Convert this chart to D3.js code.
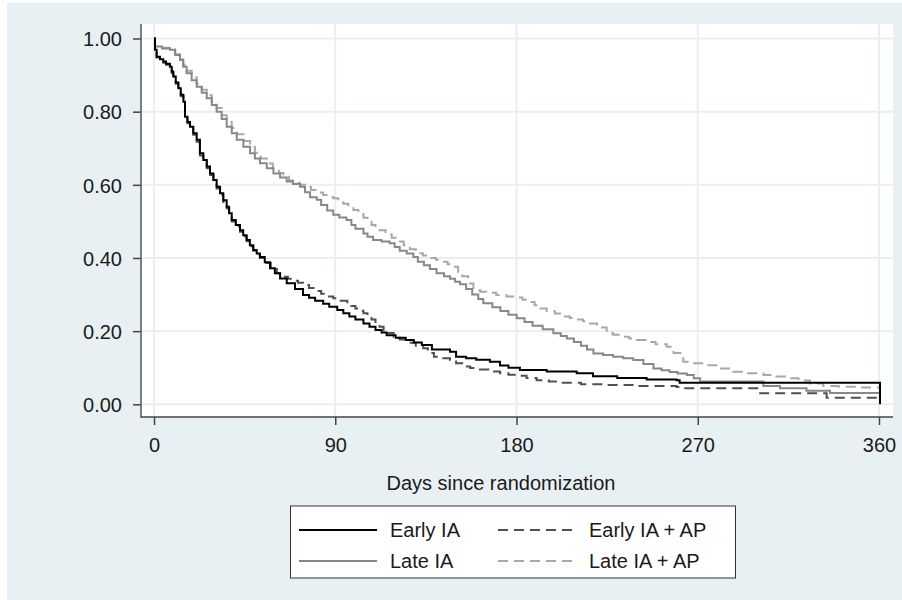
<!DOCTYPE html>
<html>
<head>
<meta charset="utf-8">
<script src="https://cdn.jsdelivr.net/npm/d3@7/dist/d3.min.js"></script>
<style>
  html, body { margin: 0; padding: 0; background: #ffffff; }
  svg { display: block; }
  text { font-family: "Liberation Sans", Arial, Helvetica, sans-serif; fill: #1a1a1a; }
</style>
</head>
<body>
<svg id="chart" width="902" height="600"></svg>
<script>
// Kaplan-Meier survival estimates: [days since randomization, proportion surviving]
const earlyIA = [
  [0,1.0],[0.5,0.969],[1.3,0.95],[3,0.943],[4.6,0.937],[6,0.931],[7.9,0.923],[8.8,0.91],
  [9.6,0.896],[10.8,0.88],[12.1,0.864],[13.3,0.846],[14.6,0.827],[15.4,0.786],[16.6,0.772],
  [17.9,0.759],[19.5,0.741],[21.2,0.723],[22.8,0.686],[24.5,0.668],[26.2,0.65],[27.8,0.631],
  [29.5,0.613],[31.1,0.595],[32.8,0.577],[34.4,0.558],[36.1,0.54],[37.3,0.522],[38.6,0.504],
  [40.6,0.49],[42.7,0.476],[44.3,0.462],[46,0.449],[47.6,0.435],[49.3,0.422],[51,0.412],
  [52.6,0.403],[55,0.388],[57.6,0.372],[60,0.358],[62.6,0.344],[65.9,0.331],[70,0.315],
  [74,0.299],[77,0.291],[80,0.283],[84,0.275],[87,0.267],[91,0.258],[94,0.249],[97,0.24],
  [100,0.232],[104,0.221],[107,0.212],[110,0.203],[113,0.196],[115.5,0.189],[120,0.182],
  [125,0.176],[129,0.169],[133,0.162],[138,0.15],[147,0.144],[150,0.13],[155,0.126],
  [160,0.122],[166.8,0.116],[171.8,0.106],[176,0.1],[181.7,0.094],[195,0.09],[209.9,0.085],
  [218,0.077],[230,0.072],[244.6,0.068],[259.5,0.066],[261,0.059],[360.5,0.0]
];
const earlyIAAP = [
  [0,1.0],[0.5,0.968],[1.3,0.948],[3,0.94],[4.6,0.934],[6,0.928],[7.9,0.92],[8.8,0.906],
  [9.6,0.892],[10.8,0.876],[12.1,0.86],[13.3,0.842],[14.6,0.822],[15.4,0.782],[16.6,0.768],
  [17.9,0.754],[19.5,0.737],[21.2,0.718],[22.8,0.68],[24.5,0.663],[26.2,0.645],[27.8,0.627],
  [29.5,0.608],[31.1,0.59],[32.8,0.572],[34.4,0.553],[36.1,0.535],[37.3,0.518],[38.6,0.5],
  [40.6,0.486],[42.7,0.472],[44.3,0.459],[46,0.446],[47.6,0.432],[49.3,0.42],[51,0.41],
  [52.6,0.4],[55,0.386],[58,0.37],[61,0.358],[64,0.349],[66.5,0.343],[69,0.338],[71.5,0.332],
  [74,0.326],[77,0.318],[80,0.31],[83,0.302],[86,0.295],[89,0.29],[92,0.283],[96,0.276],
  [98,0.269],[100,0.262],[102,0.256],[104,0.249],[106,0.241],[108,0.232],[110,0.222],
  [112,0.212],[114,0.203],[116,0.195],[119,0.185],[122,0.177],[126,0.168],[130,0.16],
  [133.7,0.153],[136,0.14],[139,0.13],[142,0.126],[147,0.121],[150,0.112],[153.6,0.103],
  [157,0.099],[160,0.095],[166,0.09],[171.8,0.085],[176,0.081],[180,0.078],[185,0.072],
  [190,0.066],[196,0.062],[201.6,0.059],[212,0.055],[224.8,0.053],[240,0.05],[259.5,0.047],
  [262.8,0.044],[301,0.03],[334,0.018],[360,0.018]
];
const lateIA = [
  [0,1.0],[0.5,0.978],[4,0.973],[7.9,0.969],[10.5,0.955],[12.9,0.941],[14.5,0.923],
  [16.2,0.905],[18.7,0.886],[21.2,0.868],[23.7,0.852],[26.2,0.837],[28.7,0.818],[31.1,0.8],
  [33.6,0.78],[36.1,0.759],[38.6,0.741],[41.1,0.723],[44.4,0.704],[47.7,0.686],[50.1,0.672],
  [52.6,0.659],[56,0.645],[59.3,0.631],[62.6,0.62],[65.9,0.609],[69,0.602],[72.5,0.595],
  [75,0.58],[77.5,0.566],[80.8,0.559],[83,0.545],[86,0.53],[89,0.518],[92,0.511],
  [95.6,0.504],[98,0.49],[100,0.48],[104,0.467],[106,0.458],[108.8,0.449],[113,0.445],
  [117,0.44],[119.5,0.43],[122,0.42],[125.5,0.412],[128.8,0.403],[131,0.39],[134,0.38],
  [137,0.37],[140.3,0.358],[144,0.35],[147,0.343],[149.5,0.335],[152,0.328],[155,0.315],
  [158,0.3],[161,0.288],[163.5,0.276],[168,0.265],[172,0.255],[176,0.245],[180.1,0.235],
  [184,0.225],[188,0.215],[193,0.205],[198.3,0.194],[202,0.187],[205,0.18],[208.5,0.17],
  [212,0.16],[215,0.15],[218.2,0.139],[223,0.135],[228,0.13],[233,0.126],[238,0.121],
  [243,0.11],[248,0.098],[252,0.093],[256,0.088],[260,0.084],[264.6,0.08],[268,0.071],
  [271.2,0.062],[302.6,0.05],[310.8,0.044],[324,0.037],[335.7,0.031],[360,0.031]
];
const lateIAAP = [
  [0,1.0],[0.5,0.98],[4,0.975],[7.9,0.97],[10.5,0.957],[12.9,0.943],[14.5,0.928],
  [16.2,0.912],[18.7,0.894],[21.2,0.876],[23.7,0.86],[26.2,0.845],[28.7,0.828],[31.1,0.81],
  [33.6,0.79],[36.1,0.772],[38.6,0.755],[41.1,0.738],[44.4,0.72],[47.7,0.704],[50.1,0.688],
  [53,0.672],[56,0.658],[59,0.645],[62,0.632],[64.2,0.622],[67,0.612],[70,0.605],[72.5,0.6],
  [75,0.594],[78,0.586],[81,0.579],[84,0.572],[86.5,0.567],[89,0.563],[91.5,0.556],
  [94,0.548],[96.5,0.54],[99,0.531],[101.5,0.52],[104,0.51],[106,0.5],[108,0.49],
  [110,0.483],[112,0.476],[115,0.465],[118,0.455],[121,0.445],[124,0.435],[127,0.424],
  [130,0.413],[133.5,0.407],[137,0.4],[140,0.395],[143,0.39],[145.8,0.383],[148.6,0.376],
  [151,0.362],[153,0.35],[156,0.33],[158.6,0.312],[162,0.308],[165,0.305],[170,0.299],
  [175,0.295],[180,0.292],[183,0.286],[186,0.28],[189,0.271],[191.7,0.262],[195,0.255],
  [199,0.248],[203,0.24],[206.5,0.236],[210,0.232],[213,0.227],[216.5,0.221],[220,0.21],
  [224.8,0.194],[228,0.19],[232,0.185],[236,0.18],[239.7,0.176],[244,0.17],[249,0.164],
  [254.6,0.157],[258,0.14],[262.8,0.116],[267,0.112],[272.7,0.107],[280,0.098],[287.6,0.089],
  [295,0.085],[302.6,0.08],[309,0.076],[315.8,0.071],[320,0.065],[325.7,0.057],[332.3,0.05],
  [340,0.048],[348.8,0.046],[360,0.046]
];

const seriesNames = ["Early IA", "Early IA + AP", "Late IA", "Late IA + AP"];
const xTicks = [0, 90, 180, 270, 360];
const yTicks = [0, 0.2, 0.4, 0.6, 0.8, 1.0];
const xTitle = "Days since randomization";

const series = [
  { name: seriesNames[3], values: lateIAAP,  color: "#a8a8a8", dash: "10,6" },
  { name: seriesNames[2], values: lateIA,    color: "#888888", dash: null },
  { name: seriesNames[1], values: earlyIAAP, color: "#505050", dash: "10,6" },
  { name: seriesNames[0], values: earlyIA,   color: "#000000", dash: null }
];

const svg = d3.select("#chart");
const bg = "#e9f0f3";

// graph region
svg.append("rect").attr("x", 7).attr("y", 3).attr("width", 895).attr("height", 597).attr("fill", bg);

// plot region
const plot = { left: 141, top: 24, right: 893, bottom: 417 };
svg.append("rect")
  .attr("x", plot.left).attr("y", plot.top)
  .attr("width", plot.right - plot.left).attr("height", plot.bottom - plot.top)
  .attr("fill", "#ffffff");

const x = d3.scaleLinear().domain([0, 360]).range([154, 879]);
const y = d3.scaleLinear().domain([0, 1]).range([404.3, 38.5]);

// grid
const grid = svg.append("g").attr("stroke", "#e8eff2").attr("stroke-width", 2);
grid.selectAll(".gy").data(yTicks).join("line")
  .attr("x1", plot.left).attr("x2", plot.right)
  .attr("y1", d => y(d)).attr("y2", d => y(d));
grid.selectAll(".gx").data(xTicks).join("line")
  .attr("y1", plot.top).attr("y2", plot.bottom)
  .attr("x1", d => x(d)).attr("x2", d => x(d));

// survival curves
const line = d3.line().x(d => x(d[0])).y(d => y(d[1])).curve(d3.curveStepAfter);
svg.append("g").selectAll("path").data(series).join("path")
  .attr("d", d => line(d.values))
  .attr("fill", "none")
  .attr("stroke", d => d.color)
  .attr("stroke-width", 2)
  .attr("stroke-dasharray", d => d.dash);

// axes
const yAxis = d3.axisLeft(y).tickValues(yTicks).tickFormat(d3.format(".2f"))
  .tickSizeInner(8).tickSizeOuter(0).tickPadding(11);
const gy = svg.append("g").attr("transform", `translate(${plot.left},0)`).call(yAxis);
const xAxis = d3.axisBottom(x).tickValues(xTicks).tickFormat(d3.format("d"))
  .tickSizeInner(8).tickSizeOuter(0).tickPadding(13);
const gx = svg.append("g").attr("transform", `translate(0,${plot.bottom})`).call(xAxis);
[gx, gy].forEach(g => {
  g.select(".domain").remove();
  g.selectAll(".tick line").attr("stroke", "#444").attr("stroke-width", 1.5);
  g.selectAll(".tick text").attr("font-size", 20).attr("fill", "#1a1a1a")
    .style("font-family", '"Liberation Sans", Arial, sans-serif');
});
gy.selectAll(".tick text").attr("dy", "0.36em");

svg.append("line").attr("x1", plot.left).attr("x2", plot.left)
  .attr("y1", plot.top).attr("y2", plot.bottom + 0.75)
  .attr("stroke", "#555").attr("stroke-width", 1.5);
svg.append("line").attr("x1", plot.left).attr("x2", plot.right)
  .attr("y1", plot.bottom).attr("y2", plot.bottom)
  .attr("stroke", "#444").attr("stroke-width", 1.5);

// axis title
svg.append("text").attr("x", 501).attr("y", 490)
  .attr("text-anchor", "middle").attr("font-size", 20).text(xTitle);

// legend
const legend = svg.append("g");
legend.append("rect").attr("x", 290.5).attr("y", 506).attr("width", 445).attr("height", 72)
  .attr("fill", "#ffffff").attr("stroke", "#333").attr("stroke-width", 1);
const legendItems = [
  { s: series[3], col: 0, row: 0 },
  { s: series[2], col: 1, row: 0 },
  { s: series[1], col: 0, row: 1 },
  { s: series[0], col: 1, row: 1 }
];
const colX = [299, 498];
const rowY = [530, 561];
legendItems.forEach(it => {
  const lx = colX[it.col], ly = rowY[it.row];
  legend.append("line").attr("x1", lx).attr("x2", lx + 78).attr("y1", ly).attr("y2", ly)
    .attr("stroke", it.s.color).attr("stroke-width", 2)
    .attr("stroke-dasharray", it.s.dash);
  legend.append("text").attr("x", lx + 91).attr("y", ly).attr("dy", "0.36em")
    .attr("font-size", 20).text(it.s.name);
});
</script>
</body>
</html>
